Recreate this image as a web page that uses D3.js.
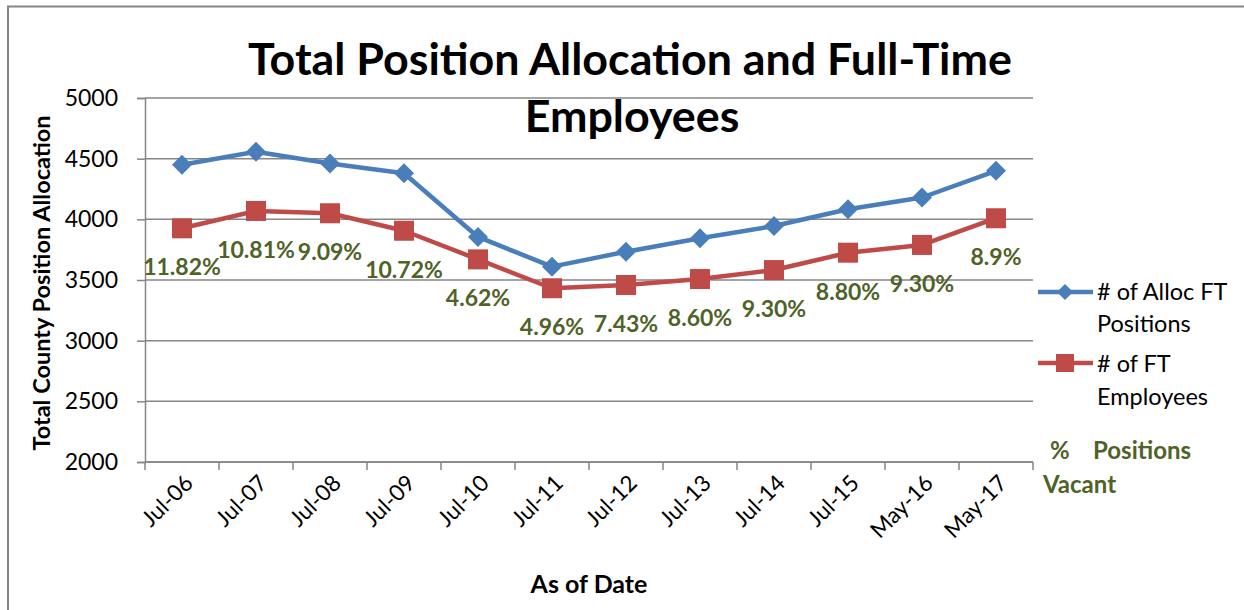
<!DOCTYPE html>
<html>
<head>
<meta charset="utf-8">
<script src="https://cdn.jsdelivr.net/npm/d3@7"></script>
<style>
  body { margin: 0; background: #fff; }
  svg { display: block; }
  text { font-family: Lato, "Noto Sans", sans-serif; }
</style>
</head>
<body>
<script>
// chart data
let dates = ["Jul-06","Jul-07","Jul-08","Jul-09","Jul-10","Jul-11","Jul-12","Jul-13","Jul-14","Jul-15","May-16","May-17"];
let allocFT = [4450, 4557, 4460, 4380, 3855, 3610, 3733, 3844, 3945, 4083, 4180, 4400];
let ftEmployees = [3926, 4069, 4050, 3906, 3670, 3432, 3459, 3508, 3582, 3725, 3789, 4009];
let pctVacant = ["11.82%","10.81%","9.09%","10.72%","4.62%","4.96%","7.43%","8.60%","9.30%","8.80%","9.30%","8.9%"];
let yTicks = [2000, 2500, 3000, 3500, 4000, 4500, 5000];

let W = 1244, H = 610;
let blue = "#4a7ebb", red = "#be4b48", green = "#4f6228", gray = "#868686";

let svg = d3.select("body").append("svg").attr("width", W).attr("height", H);

// outer chart border (only top and left visible in the crop)
svg.append("rect").attr("x", 8).attr("y", 6.5).attr("width", W + 20).attr("height", H + 20)
  .attr("fill", "none").attr("stroke", gray).attr("stroke-width", 2);

let x = d3.scaleBand().domain(dates).range([145, 1033]).padding(0);
let y = d3.scaleLinear().domain([2000, 5000]).range([462, 98]);
let cx = d => x(d) + x.bandwidth() / 2;

// gridlines
svg.append("g").selectAll("line").data(yTicks).enter().append("line")
  .attr("x1", 145).attr("x2", 1033).attr("y1", d => y(d)).attr("y2", d => y(d))
  .attr("stroke", gray).attr("stroke-width", 1.5);

// y axis
let yAxis = svg.append("g").attr("transform", "translate(145,0)")
  .call(d3.axisLeft(y).tickValues(yTicks).tickSize(8).tickPadding(19).tickFormat(d3.format("d")));
yAxis.select(".domain").attr("stroke", gray).attr("stroke-width", 1.5);
yAxis.selectAll(".tick line").attr("stroke", gray).attr("stroke-width", 1.5);
yAxis.selectAll(".tick text").style("font-size", "23px").attr("fill", "#000").attr("font-family", "Lato");

// x axis: labels at centres, tick marks between categories
let xAxis = svg.append("g").attr("transform", "translate(0,462)")
  .call(d3.axisBottom(x).tickSize(0).tickPadding(0));
xAxis.select(".domain").remove();
xAxis.selectAll(".tick text")
  .style("font-size", "22.5px").attr("fill", "#000").attr("font-family", "Lato")
  .attr("text-anchor", "end")
  .attr("transform", "translate(7,17) rotate(-45)")
  .attr("dy", "0.35em").attr("y", 0);
svg.append("line").attr("x1", 145).attr("x2", 1033).attr("y1", 462).attr("y2", 462)
  .attr("stroke", gray).attr("stroke-width", 1.5);
svg.append("g").selectAll("line").data(dates.map(d => x(d)).concat([x.range()[1]])).enter().append("line")
  .attr("x1", d => d).attr("x2", d => d).attr("y1", 462).attr("y2", 470)
  .attr("stroke", gray).attr("stroke-width", 1.5);

// axis titles
svg.append("text").text("Total County Position Allocation")
  .attr("transform", "translate(50,283) rotate(-90)").attr("text-anchor", "middle")
  .style("font-size", "23.5px").style("font-weight", "bold");
svg.append("text").text("As of Date").attr("x", 589).attr("y", 593).attr("text-anchor", "middle")
  .style("font-size", "25px").style("font-weight", "bold");

// lines
let line = vals => d3.line().x((d, i) => cx(dates[i])).y(d => y(d))(vals);
svg.append("path").attr("d", line(allocFT)).attr("fill", "none").attr("stroke", blue).attr("stroke-width", 4.5).attr("stroke-linejoin", "round");
svg.append("path").attr("d", line(ftEmployees)).attr("fill", "none").attr("stroke", red).attr("stroke-width", 4.5).attr("stroke-linejoin", "round");

let diamond = d3.symbol().type(d3.symbolSquare).size(200);
svg.append("g").selectAll("path").data(allocFT).enter().append("path")
  .attr("d", diamond).attr("fill", blue)
  .attr("transform", (d, i) => `translate(${cx(dates[i])},${y(d)}) rotate(45)`);
svg.append("g").selectAll("rect").data(ftEmployees).enter().append("rect")
  .attr("x", (d, i) => cx(dates[i]) - 10).attr("y", d => y(d) - 10)
  .attr("width", 20).attr("height", 20).attr("fill", red);

// % vacant labels under the employee points
svg.append("g").selectAll("text").data(pctVacant).enter().append("text")
  .text(d => d).attr("x", (d, i) => cx(dates[i])).attr("y", (d, i) => y(ftEmployees[i]) + 47)
  .attr("text-anchor", "middle").attr("fill", green)
  .style("font-size", "23px").style("font-weight", "bold");

// title, fitted to width
function fit(sel, target) {
  let w = sel.node().getComputedTextLength();
  let fs = parseFloat(sel.style("font-size"));
  sel.style("font-size", (fs * target / w) + "px");
}
let t1 = svg.append("text").text("Total Position Allocation and Full-Time")
  .attr("x", 630).attr("y", 75).attr("text-anchor", "middle")
  .style("font-size", "40px").style("font-weight", "bold");
fit(t1, 764);
let t2 = svg.append("text").text("Employees")
  .attr("x", 632).attr("y", 132).attr("text-anchor", "middle")
  .style("font-size", t1.style("font-size")).style("font-weight", "bold");

// legend
let leg = svg.append("g");
leg.append("line").attr("x1", 1038).attr("x2", 1093).attr("y1", 292).attr("y2", 292).attr("stroke", blue).attr("stroke-width", 4.5);
leg.append("path").attr("d", d3.symbol().type(d3.symbolSquare).size(130)).attr("fill", blue).attr("transform", "translate(1065,292) rotate(45)");
leg.append("text").text("# of Alloc FT").attr("x", 1097).attr("y", 300).style("font-size", "23.5px");
leg.append("text").text("Positions").attr("x", 1097).attr("y", 332).style("font-size", "23.5px");
leg.append("line").attr("x1", 1038).attr("x2", 1093).attr("y1", 363).attr("y2", 363).attr("stroke", red).attr("stroke-width", 4.5);
leg.append("rect").attr("x", 1056).attr("y", 354).attr("width", 18).attr("height", 18).attr("fill", red);
leg.append("text").text("# of FT").attr("x", 1097).attr("y", 372).style("font-size", "23.5px");
leg.append("text").text("Employees").attr("x", 1097).attr("y", 405).style("font-size", "23.5px");
leg.append("text").text("%").attr("x", 1050).attr("y", 459).attr("fill", green).style("font-size", "24px").style("font-weight", "bold");
leg.append("text").text("Positions").attr("x", 1093).attr("y", 459).attr("fill", green).style("font-size", "24px").style("font-weight", "bold");
leg.append("text").text("Vacant").attr("x", 1043).attr("y", 493).attr("fill", green).style("font-size", "24px").style("font-weight", "bold");
</script>
</body>
</html>
